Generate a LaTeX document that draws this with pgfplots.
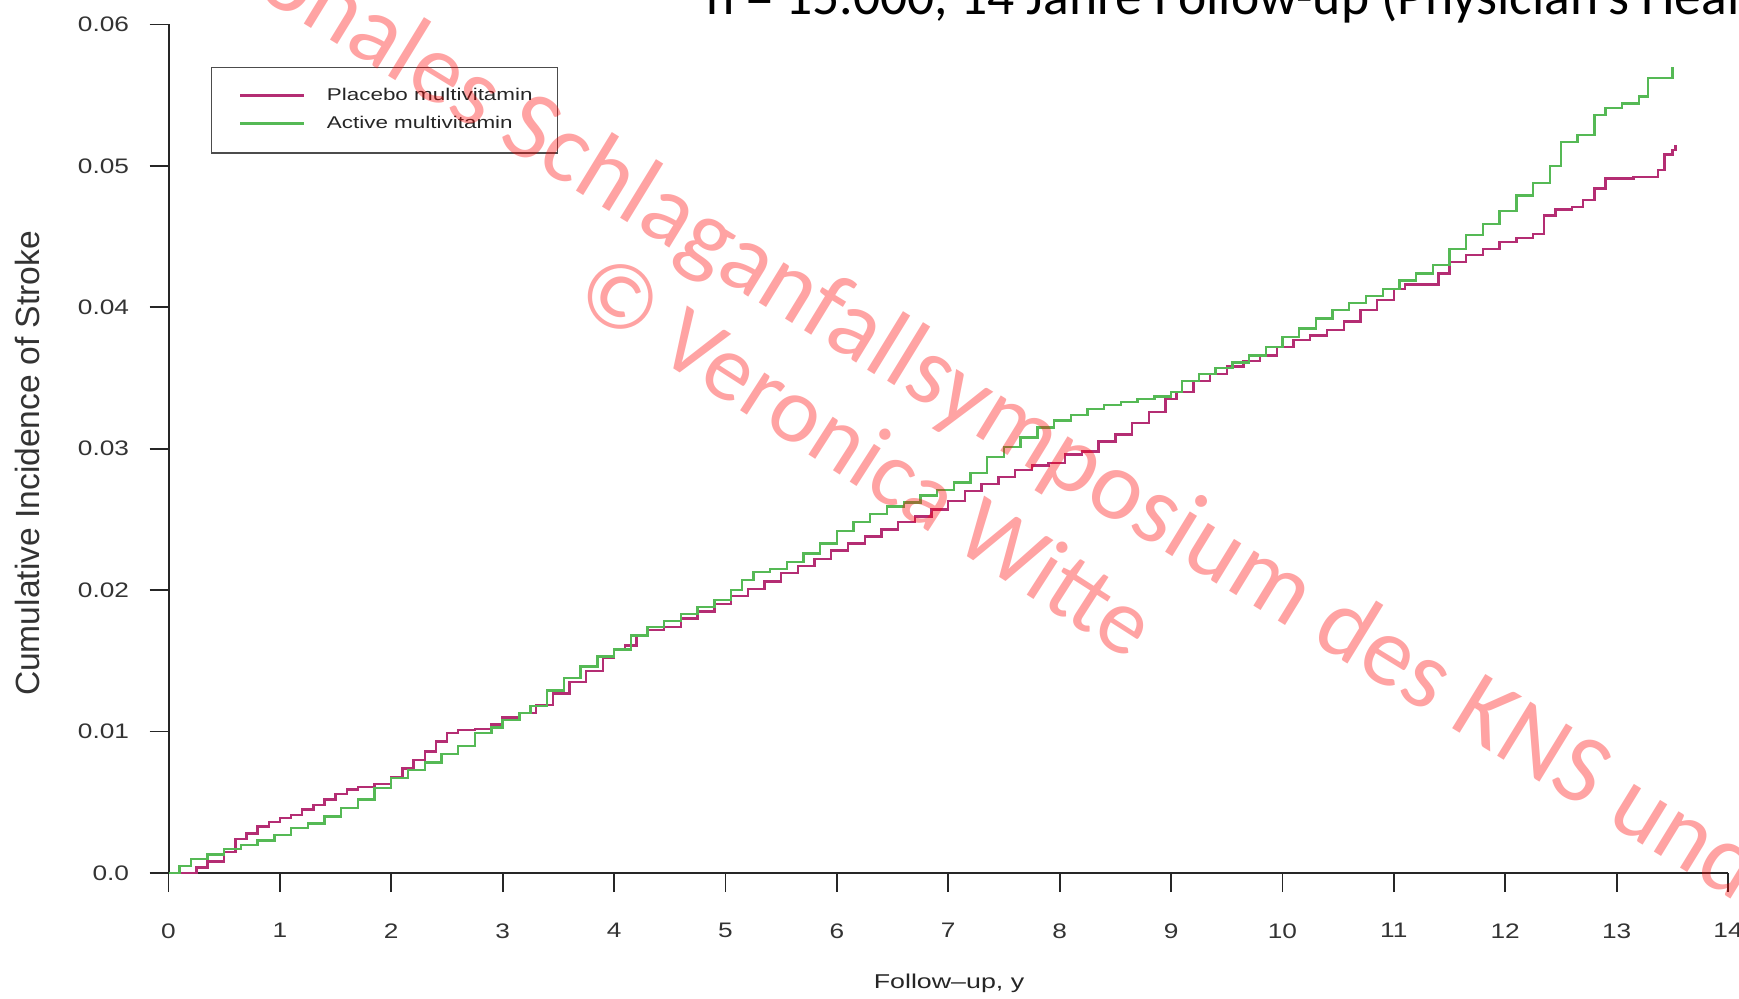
\documentclass[border=0pt]{standalone}
\usepackage{pgfplots}
\usepackage{pgfplotstable}
\pgfplotsset{compat=1.18}
\usepackage{graphicx}
\usepackage{fontspec}
\setmainfont{Liberation Sans}
\newfontfamily\calibri{Carlito}
\definecolor{placebo}{RGB}{180,45,115}
\definecolor{active}{RGB}{85,185,85}
\newcommand\tl[1]{\scalebox{1.25}[1]{#1}}
\newcommand\lgt[1]{\hspace*{11pt}\makebox[101.7pt][l]{\scalebox{1.32}[1]{#1}}}

\pgfplotstableread{
x y
0 0
0.15 0
0.25 0.0004
0.35 0.0008
0.5 0.0015
0.6 0.0024
0.7 0.0028
0.8 0.0033
0.9 0.0036
1.0 0.0039
1.1 0.0041
1.2 0.0045
1.3 0.0048
1.4 0.0052
1.5 0.0056
1.6 0.0059
1.7 0.0061
1.85 0.0063
2.0 0.0068
2.1 0.0074
2.2 0.0080
2.3 0.0086
2.4 0.0093
2.5 0.0099
2.6 0.0101
2.75 0.0102
2.9 0.0105
3.0 0.0110
3.15 0.0113
3.3 0.0119
3.45 0.0127
3.6 0.0135
3.75 0.0143
3.9 0.0152
4.0 0.0158
4.1 0.0161
4.2 0.0168
4.3 0.0172
4.45 0.0174
4.6 0.0180
4.75 0.0185
4.9 0.0190
5.05 0.0196
5.2 0.0201
5.35 0.0206
5.5 0.0212
5.65 0.0217
5.8 0.0222
5.95 0.0228
6.1 0.0233
6.25 0.0238
6.4 0.0243
6.55 0.0248
6.7 0.0252
6.85 0.0257
7.0 0.0263
7.15 0.0270
7.3 0.0275
7.45 0.0280
7.6 0.0285
7.75 0.0288
7.9 0.0290
8.05 0.0296
8.2 0.0298
8.35 0.0305
8.5 0.0310
8.65 0.0318
8.8 0.0326
8.95 0.0335
9.05 0.0340
9.2 0.0348
9.35 0.0353
9.5 0.0358
9.65 0.0362
9.8 0.0366
9.95 0.0372
10.1 0.0377
10.25 0.0380
10.4 0.0384
10.55 0.0390
10.7 0.0398
10.85 0.0405
11.0 0.0413
11.1 0.0416
11.3 0.0416
11.4 0.0424
11.5 0.0432
11.65 0.0437
11.8 0.0441
11.95 0.0446
12.1 0.0449
12.25 0.0452
12.35 0.0465
12.45 0.0469
12.6 0.0471
12.7 0.0476
12.8 0.0484
12.9 0.0491
13.0 0.0491
13.15 0.0492
13.3 0.0492
13.37 0.0497
13.43 0.0508
13.5 0.0511
13.53 0.0515
}\placebodata

\pgfplotstableread{
x y
0 0
0.1 0.0005
0.2 0.0010
0.35 0.0013
0.5 0.0017
0.65 0.0020
0.8 0.0023
0.95 0.0027
1.1 0.0032
1.25 0.0035
1.4 0.0040
1.55 0.0046
1.7 0.0052
1.85 0.0060
2.0 0.0067
2.15 0.0073
2.3 0.0078
2.45 0.0084
2.6 0.0090
2.75 0.0099
2.9 0.0103
3.0 0.0108
3.15 0.0113
3.25 0.0118
3.4 0.0129
3.55 0.0138
3.7 0.0146
3.85 0.0153
4.0 0.0158
4.15 0.0168
4.3 0.0174
4.45 0.0178
4.6 0.0183
4.75 0.0188
4.9 0.0193
5.05 0.0200
5.15 0.0207
5.25 0.0213
5.4 0.0215
5.55 0.0220
5.7 0.0226
5.85 0.0233
6.0 0.0242
6.15 0.0248
6.3 0.0254
6.45 0.0259
6.6 0.0262
6.75 0.0267
6.9 0.0271
7.05 0.0276
7.2 0.0283
7.35 0.0294
7.5 0.0301
7.65 0.0308
7.8 0.0315
7.95 0.0320
8.1 0.0324
8.25 0.0328
8.4 0.0331
8.55 0.0333
8.7 0.0335
8.85 0.0337
9.0 0.0340
9.1 0.0348
9.25 0.0353
9.4 0.0357
9.55 0.0361
9.7 0.0366
9.85 0.0372
10.0 0.0379
10.15 0.0385
10.3 0.0392
10.45 0.0398
10.6 0.0403
10.75 0.0408
10.9 0.0413
11.05 0.0419
11.2 0.0424
11.35 0.0430
11.5 0.0441
11.65 0.0451
11.8 0.0459
11.95 0.0468
12.1 0.0479
12.25 0.0488
12.4 0.0500
12.5 0.0517
12.65 0.0522
12.8 0.0536
12.9 0.0541
13.05 0.0544
13.2 0.0549
13.28 0.0562
13.48 0.0562
13.5 0.0570
}\activedata

\begin{document}
\begin{tikzpicture}
\useasboundingbox (0,0) rectangle (869.5pt,499pt);
\begin{axis}[
  at={(84.25pt,62.5pt)}, anchor=south west,
  scale only axis, width=779.75pt, height=424.3pt,
  xmin=0, xmax=14, ymin=0, ymax=0.06,
  axis lines*=left,
  axis line style={line width=1pt, black!85},
  tick align=outside,
  major tick length=9.5pt,
  every tick/.style={line width=0.9pt, black!85},
  xtick={0,1,2,3,4,5,6,7,8,9,10,11,12,13,14},
  xticklabel={\tl{\pgfmathprintnumber[assume math mode=true]{\tick}}},
  ytick={0,0.01,0.02,0.03,0.04,0.05,0.06},
  yticklabels={\tl{0.0},\tl{0.01},\tl{0.02},\tl{0.03},\tl{0.04},\tl{0.05},\tl{0.06}},
  ticklabel style={font=\fontsize{10.5}{12}\selectfont, text=black!80},
  xticklabel style={yshift=-12.2pt},
  yticklabel style={xshift=-6.7pt},
  xlabel={\scalebox{1.34}[1]{Follow\textendash up, y}},
  xlabel style={at={(axis description cs:0.5005,-0.1296)}, anchor=center, font=\fontsize{10}{12}\selectfont, text=black!85},
  ylabel={Cumulative Incidence of Stroke},
  ylabel style={at={(axis description cs:-0.0903,0.4826)}, anchor=center, rotate=0, font=\fontsize{16.8}{19}\selectfont, text=black!80},
  legend image code/.code={\draw[#1] (0pt,0.3pt) -- (31.8pt,0.3pt);},
  legend style={at={(axis description cs:0.02706,0.9504)}, anchor=north west,
    draw=black!70, line width=0.8pt, inner xsep=13.7pt, inner ysep=7.4pt,
    font=\fontsize{8.5}{10}\selectfont, text=black!85,
    nodes={inner sep=0pt, text depth=4.7pt, text height=9.3pt},
    row sep=0pt},
  legend cell align=left,
]
\addplot[const plot, color=placebo, line width=1.2pt] table[x=x,y=y] {\placebodata};
\addlegendentry{\lgt{Placebo multivitamin}}
\addplot[const plot, color=active, line width=1.2pt] table[x=x,y=y] {\activedata};
\addlegendentry{\lgt{Active multivitamin}}
\end{axis}
\node[anchor=base west, font=\calibri\fontsize{26.8}{30}\selectfont, inner sep=0pt] at (353pt,491.5pt) {n = 15.000, 14 Jahre Follow-up (Physician’s Health Study II)};
\node[rotate=-31.5, anchor=base west, inner sep=0pt, text=red, text opacity=0.36, font=\calibri\fontsize{49.5}{56}\selectfont] at (248pt,428pt) {\llap{Internationales }Schlaganfallsymposium des KNS und der};
\node[rotate=-32.7, anchor=base west, inner sep=0pt, text=red, text opacity=0.36, font=\calibri\fontsize{47}{56}\selectfont] at (285.3pt,347.95pt) {© Veronica Witte};
\end{tikzpicture}
\end{document}
